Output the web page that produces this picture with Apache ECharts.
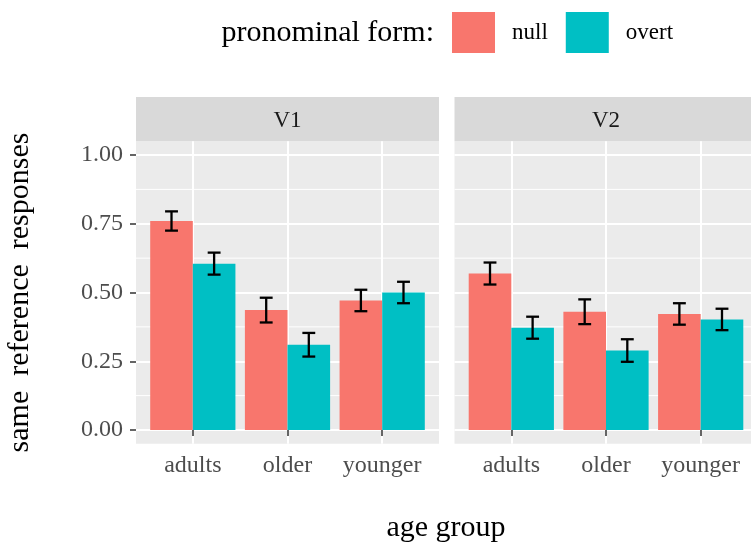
<!DOCTYPE html>
<html><head><meta charset="utf-8">
<script src="https://cdn.jsdelivr.net/npm/echarts@6/dist/echarts.min.js"></script>
<style>html,body{margin:0;padding:0;background:#fff}#c{width:751px;height:546px}</style>
</head><body><div id="c"></div>
<script>
// ---- data ----
const categories = ['adults', 'older', 'younger'];
const panels = ['V1', 'V2'];
const forms = ['null', 'overt'];
const nullV1 = [0.760, 0.436, 0.471];
const overtV1 = [0.605, 0.310, 0.500];
const nullV2 = [0.569, 0.430, 0.422];
const overtV2 = [0.372, 0.289, 0.402];
const nullV1Err = [0.035, 0.045, 0.039];
const overtV1Err = [0.040, 0.043, 0.039];
const nullV2Err = [0.040, 0.045, 0.039];
const overtV2Err = [0.040, 0.041, 0.039];
const yTicks = [0, 0.25, 0.5, 0.75, 1];
const yMinorTicks = [0.125, 0.375, 0.625, 0.875];
const xPositions = [1, 2, 3];

// ---- style ----
const FONT = 'Liberation Serif';
const COLORS = { 'null': '#F8766D', 'overt': '#00BFC4' };
const OFFSET = { 'null': -0.225, 'overt': 0.225 };
const HALF_BAR = 0.225;
const CAP = 0.068;
const PW = 303;
const gridBoxes = [
  { left: 136, top: 141.25, width: PW, height: 302.5 },
  { left: 454.5, top: 141.25, width: PW, height: 302.5 }
];
const values = { V1: { 'null': nullV1, 'overt': overtV1 }, V2: { 'null': nullV2, 'overt': overtV2 } };
const errs = { V1: { 'null': nullV1Err, 'overt': overtV1Err }, V2: { 'null': nullV2Err, 'overt': overtV2Err } };

function barRender(form) {
  return function (params, api) {
    const x = api.value(0) + OFFSET[form];
    const y = api.value(1);
    const p0 = api.coord([x - HALF_BAR, y]);
    const p1 = api.coord([x + HALF_BAR, 0]);
    return { type: 'rect', shape: { x: p0[0], y: p0[1], width: p1[0] - p0[0], height: p1[1] - p0[1] },
      style: { fill: COLORS[form] } };
  };
}
function errRender(form) {
  return function (params, api) {
    const x = api.value(0) + OFFSET[form];
    const lo = api.value(1), hi = api.value(2);
    const a = api.coord([x, hi]), b = api.coord([x, lo]);
    const l = api.coord([x - CAP, hi]), r = api.coord([x + CAP, hi]);
    const l2 = api.coord([x - CAP, lo]), r2 = api.coord([x + CAP, lo]);
    const st = { stroke: '#000', lineWidth: 2.3 };
    return { type: 'group', children: [
      { type: 'line', shape: { x1: a[0], y1: a[1], x2: b[0], y2: b[1] }, style: st },
      { type: 'line', shape: { x1: l[0], y1: l[1], x2: r[0], y2: r[1] }, style: st },
      { type: 'line', shape: { x1: l2[0], y1: l2[1], x2: r2[0], y2: r2[1] }, style: st }
    ] };
  };
}
function minorRender(params, api) {
  const cs = params.coordSys;
  const y = api.coord([1, api.value(1)])[1];
  return { type: 'line', shape: { x1: cs.x, y1: y, x2: cs.x + cs.width, y2: y },
    style: { stroke: '#FFFFFF', lineWidth: 1 } };
}

const grid = gridBoxes.map(g => Object.assign({ show: true, backgroundColor: '#EBEBEB', borderWidth: 0,
  containLabel: false, outerBoundsMode: 'none' }, g));
const xAxis = panels.map((p, i) => ({
  type: 'value', gridIndex: i, min: 0.4, max: 3.6,
  axisLine: { show: false },
  axisTick: { show: true, customValues: xPositions, length: 6, lineStyle: { color: '#333333', width: 1.5 } },
  axisLabel: { customValues: xPositions, formatter: v => categories[Math.round(v) - 1],
    fontFamily: FONT, fontSize: 24, color: '#4D4D4D', margin: 10 },
  splitLine: { show: true, lineStyle: { color: '#FFFFFF', width: 2 } }
}));
const yAxis = panels.map((p, i) => ({
  type: 'value', gridIndex: i, min: -0.05, max: 1.05,
  axisLine: { show: false },
  axisTick: { show: i === 0, customValues: yTicks, length: 6, lineStyle: { color: '#333333', width: 1.5 } },
  axisLabel: { show: i === 0, customValues: yTicks, formatter: v => v.toFixed(2),
    fontFamily: FONT, fontSize: 24, color: '#4D4D4D', margin: 13 },
  splitLine: { show: true, lineStyle: { color: '#FFFFFF', width: 2 } },
  name: i === 0 ? 'same  reference  responses' : '',
  nameLocation: 'middle', nameGap: 101, nameRotate: 90,
  nameTextStyle: { fontFamily: FONT, fontSize: 30, color: '#000000' }
}));

const series = [];
panels.forEach((p, i) => {
  series.push({ type: 'custom', name: 'grid-minor-' + p, xAxisIndex: i, yAxisIndex: i, z: 1, silent: true,
    renderItem: minorRender, data: yMinorTicks.map(v => [1, v]), encode: { x: 0, y: 1 } });
  forms.forEach(f => {
    series.push({ type: 'custom', name: f, xAxisIndex: i, yAxisIndex: i, z: 2,
      itemStyle: { color: COLORS[f] },
      renderItem: barRender(f),
      data: values[p][f].map((v, k) => [xPositions[k], v]), encode: { x: 0, y: 1 } });
  });
  forms.forEach(f => {
    series.push({ type: 'custom', name: 'err-' + f + '-' + p, xAxisIndex: i, yAxisIndex: i, z: 3, silent: true,
      renderItem: errRender(f),
      data: values[p][f].map((v, k) => [xPositions[k], v - errs[p][f][k], v + errs[p][f][k]]),
      encode: { x: 0, y: [1, 2] } });
  });
});

const graphic = [];
panels.forEach((p, i) => {
  const g = gridBoxes[i];
  graphic.push({ type: 'rect', shape: { x: g.left, y: 97, width: g.width, height: 44.25 }, style: { fill: '#D9D9D9' }, z: 0 });
  graphic.push({ type: 'text', x: g.left + g.width / 2, y: 120.5,
    style: { text: p, font: '23px "Liberation Serif"', fill: '#1A1A1A', align: 'center', verticalAlign: 'middle' }, z: 1 });
});
graphic.push({ type: 'text', x: 434, y: 33,
  style: { text: 'pronominal form:', font: '30px "Liberation Serif"', fill: '#000', align: 'right', verticalAlign: 'middle' } });
graphic.push({ type: 'text', x: 446, y: 528,
  style: { text: 'age group', font: '30px "Liberation Serif"', fill: '#000', align: 'center', verticalAlign: 'middle' } });

const chart = echarts.init(document.getElementById('c'), null, { renderer: 'canvas' });
chart.setOption({
  animation: false,
  backgroundColor: '#FFFFFF',
  textStyle: { fontFamily: FONT },
  grid, xAxis, yAxis, series, graphic,
  legend: { data: forms, left: 452, top: 12, padding: 0, itemWidth: 43, itemHeight: 41, itemGap: 18, icon: 'rect',
    selectedMode: false,
    textStyle: { fontFamily: FONT, fontSize: 23, color: '#000', padding: [0, 0, 0, 12] } }
});
</script></body></html>
